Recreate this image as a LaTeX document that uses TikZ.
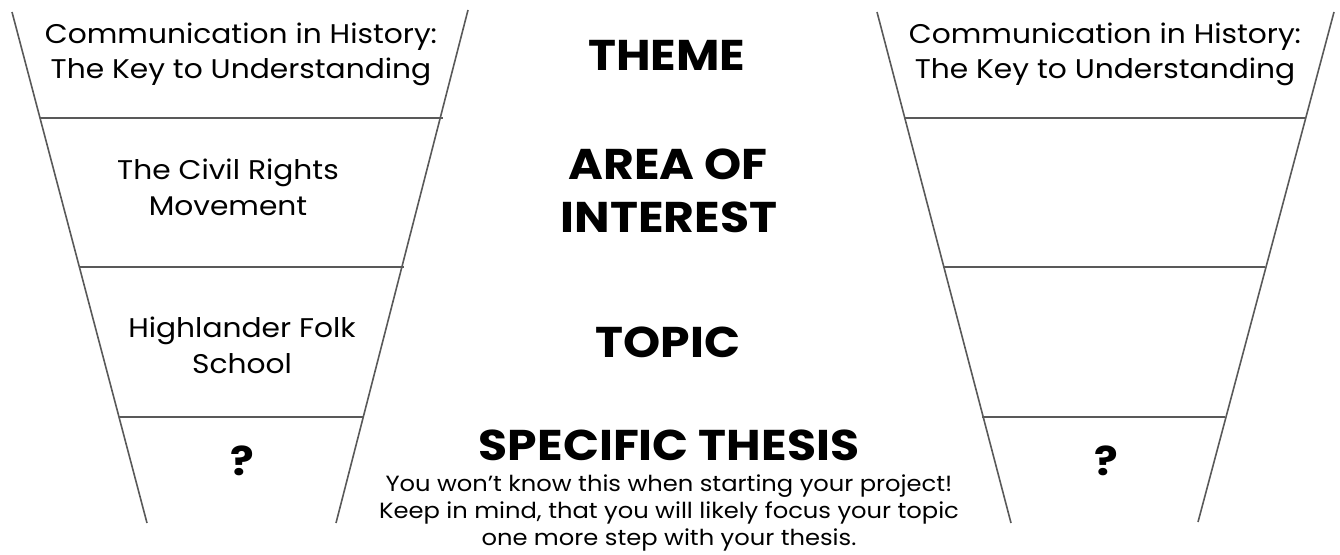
\documentclass[tikz,border=0pt]{standalone}
\usepackage{fontspec}
\setmainfont{Poppins}[FakeStretch=1.1]
\tikzset{
  edge/.style={draw=black!65, line width=1.6pt},
  body/.style={anchor=base, inner sep=0pt, font=\fontsize{27}{35}\selectfont},
  head/.style={anchor=base, inner sep=0pt, font=\fontsize{43}{53}\selectfont\bfseries},
  qmark/.style={anchor=base, inner sep=0pt, font=\fontsize{40}{48}\selectfont\bfseries},
  note/.style={anchor=base, inner sep=0pt, font=\fontsize{22}{28}\selectfont},
}
\begin{document}
\begin{tikzpicture}[x=1pt, y=-1pt]
\useasboundingbox (0,0) rectangle (1340,554);
% left funnel
\coordinate (LTL) at (12,12);
\coordinate (LBL) at (147,523);
\coordinate (LTR) at (468,10);
\coordinate (LBR) at (336,523);
\draw[edge] (LTL) -- (LBL);
\draw[edge] (LTR) -- (LBR);
\coordinate (LA1) at (40,118);  \coordinate (LA2) at (443,118);
\coordinate (LB1) at (80,267);  \coordinate (LB2) at (404,267);
\coordinate (LC1) at (119,417); \coordinate (LC2) at (363,417);
\draw[edge] (LA1) -- (LA2);
\draw[edge] (LB1) -- (LB2);
\draw[edge] (LC1) -- (LC2);
% right funnel
\coordinate (RTL) at (877,12);
\coordinate (RBL) at (1011,523);
\coordinate (RTR) at (1334,12);
\coordinate (RBR) at (1198,522);
\draw[edge] (RTL) -- (RBL);
\draw[edge] (RTR) -- (RBR);
\coordinate (RA1) at (905,118);  \coordinate (RA2) at (1305,118);
\coordinate (RB1) at (943,267);  \coordinate (RB2) at (1265,267);
\coordinate (RC1) at (982,417);  \coordinate (RC2) at (1225,417);
\draw[edge] (RA1) -- (RA2);
\draw[edge] (RB1) -- (RB2);
\draw[edge] (RC1) -- (RC2);
% left funnel texts
\node[body] (l1a) at (241,43) {Communication in History:};
\node[body] (l1b) at (241,78) {The Key to Understanding};
\node[body] (l2a) at (228,179) {The Civil Rights};
\node[body] (l2b) at (228,215) {Movement};
\node[body] (l3a) at (242,337) {Highlander Folk};
\node[body] (l3b) at (242,373) {School};
\node[qmark] (l4) at (242,475) {?};
% right funnel texts
\node[body] (r1a) at (1105,43) {Communication in History:};
\node[body] (r1b) at (1105,78) {The Key to Understanding};
\node[qmark] (r4) at (1106,475) {?};
% headings
\node[head] (h1) at (667,70) {THEME};
\node[head] (h2a) at (668,179) {AREA OF};
\node[head] (h2b) at (669,232) {INTEREST};
\node[head] (h3) at (668,357) {TOPIC};
\node[head] (h4) at (669,460) {SPECIFIC THESIS};
\node[note] (n1) at (669,491) {You won’t know this when starting your project!};
\node[note] (n2) at (669,518) {Keep in mind, that you will likely focus your topic};
\node[note] (n3) at (669,545) {one more step with your thesis.};
\end{tikzpicture}
\end{document}
